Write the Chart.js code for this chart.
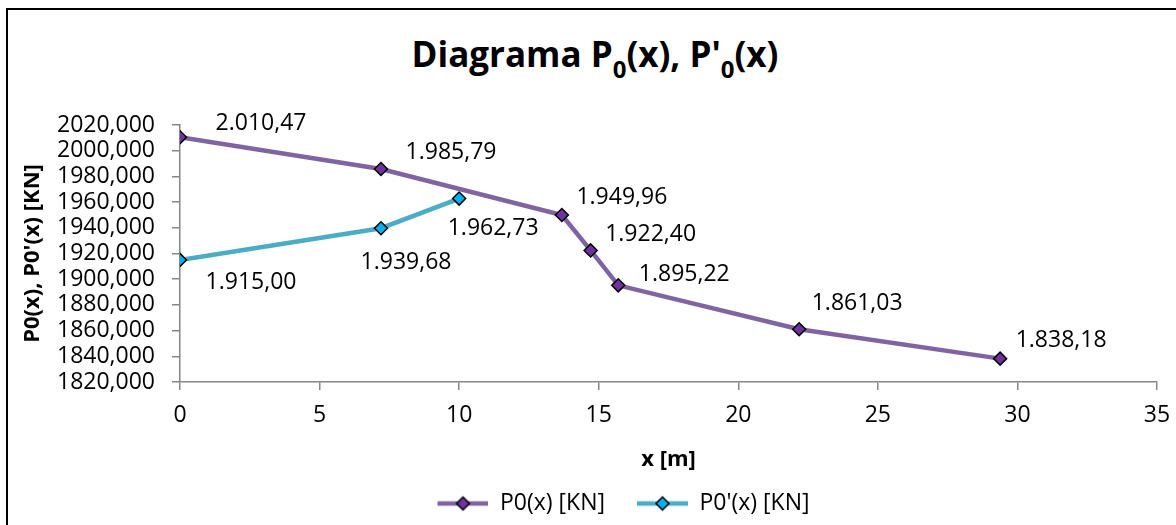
<!DOCTYPE html>
<html>
<head>
<meta charset="utf-8">
<script src="https://cdn.jsdelivr.net/npm/chart.js@4.4.1/dist/chart.umd.min.js"></script>
<style>
  html, body { margin: 0; padding: 0; background: #fff; overflow: hidden; }
  #wrap { position: relative; width: 1176px; height: 525px; }
  #frame { position: absolute; left: 6px; top: 8px; width: 1200px; height: 600px; border: 2px solid #000; box-sizing: border-box; }
  #title { position: absolute; left: 0; top: 36px; width: 1190px; text-align: center; font: bold 35px "Open Sans", sans-serif; line-height: 35px; color: #000; }
  #title sub { font-size: 24px; vertical-align: -11px; line-height: 0; }
  canvas { position: absolute; left: 0; top: 0; }
</style>
</head>
<body>
<div id="wrap">
  <div id="frame"></div>
  <div id="title">Diagrama P<sub>0</sub>(x), P'<sub>0</sub>(x)</div>
  <canvas id="chart" width="1176" height="525"></canvas>
</div>
<script>
/* ================= DATA ================= */

const seriesNames = ["P0(x) [KN]", "P0'(x) [KN]"];

const xP0   = [0, 7.2, 13.68, 14.71, 15.7, 22.18, 29.38];
const valP0 = [2010.47, 1985.79, 1949.96, 1922.40, 1895.22, 1861.03, 1838.18];

const xP0p   = [0, 7.2, 10];
const valP0p = [1915.00, 1939.68, 1962.73];

const xTicks = [0, 35, 5];        // min, max, step
const yTicks = [1820, 2020, 20];  // min, max, step

/* ================= STYLE ================= */

const FONT = '"Open Sans", sans-serif';
const lineColors   = ["#8064A2", "#4BACC6"];
const markerColors = ["#7030A0", "#00B0F0"];
const axisColor = "#868686";

// where each value label sits, relative to its point
const labelOffsets = [
  [[81, -14], [70, -17], [60, -18], [60, -16], [66, -11], [58, -26], [61, -18]],
  [[71, 23], [25, 34], [34, 30]]
];

Chart.defaults.font.family = FONT;
Chart.defaults.color = "#000";

/* ================= HELPERS ================= */

function fmtES(v) {
  const [i, d] = v.toFixed(2).split(".");
  return i.replace(/\B(?=(\d{3})+(?!\d))/g, ".") + "," + d;
}

function legendGlyph(line, fill) {
  const c = document.createElement("canvas");
  c.width = 73; c.height = 18;
  const g = c.getContext("2d");
  g.strokeStyle = line;
  g.lineWidth = 4.5;
  g.beginPath(); g.moveTo(22, 9); g.lineTo(73, 9); g.stroke();
  const cx = 47.5, r = 6.5;
  g.beginPath();
  g.moveTo(cx - r, 9); g.lineTo(cx, 9 - r); g.lineTo(cx + r, 9); g.lineTo(cx, 9 + r);
  g.closePath();
  g.fillStyle = fill; g.fill();
  g.lineWidth = 1.5; g.strokeStyle = "#000"; g.stroke();
  return c;
}

const glyphs = [legendGlyph(lineColors[0], markerColors[0]), legendGlyph(lineColors[1], markerColors[1])];

/* ================= PLUGINS ================= */

const valueLabels = {
  id: "valueLabels",
  afterDatasetsDraw(chart) {
    const ctx = chart.ctx;
    ctx.save();
    ctx.font = "23px " + FONT;
    ctx.fillStyle = "#000";
    ctx.textAlign = "center";
    ctx.textBaseline = "middle";
    chart.data.datasets.forEach((ds, i) => {
      chart.getDatasetMeta(i).data.forEach((pt, j) => {
        const o = labelOffsets[i][j];
        ctx.fillText(fmtES(ds.data[j].y), pt.x + o[0], pt.y + o[1]);
      });
    });
    ctx.restore();
  }
};

const shiftLegend = {
  id: "shiftLegend",
  afterLayout(chart) {
    chart.legend.left += 34;
    chart.legend.right += 34;
  }
};

/* ================= CHART ================= */

function series(xs, ys) {
  return xs.map((x, i) => ({ x, y: ys[i] }));
}

function dataset(k, xs, ys) {
  return {
    label: seriesNames[k],
    data: series(xs, ys),
    borderColor: lineColors[k],
    backgroundColor: markerColors[k],
    borderWidth: 4.5,
    pointStyle: "rectRot",
    pointRadius: 6.5,
    pointBackgroundColor: markerColors[k],
    pointBorderColor: "#000",
    pointBorderWidth: 1.5,
    tension: 0
  };
}

new Chart(document.getElementById("chart").getContext("2d"), {
  type: "line",
  data: {
    datasets: [dataset(0, xP0, valP0), dataset(1, xP0p, valP0p)]
  },
  options: {
    responsive: false,
    animation: false,
    layout: { padding: { left: 0, right: 19, top: 125, bottom: 0 } },
    scales: {
      x: {
        type: "linear",
        min: xTicks[0], max: xTicks[1],
        afterFit(s) { s.height = 100; s.paddingLeft = 14; s.paddingRight = 14; },
        ticks: { stepSize: xTicks[2], padding: 12, font: { size: 23 }, color: "#000" },
        grid: { drawOnChartArea: false, drawTicks: true, tickLength: 8, color: axisColor, lineWidth: 1.5 },
        border: { display: true, color: axisColor, width: 1.5 },
        title: { display: true, text: "x [m]", font: { size: 22, weight: "bold" }, padding: { top: 0, bottom: 9 } }
      },
      y: {
        min: yTicks[0], max: yTicks[1],
        afterFit(s) { s.width = 180; },
        ticks: {
          stepSize: yTicks[2], autoSkip: false, padding: 17, font: { size: 23 }, color: "#000",
          callback: v => v.toFixed(3).replace(".", ",")
        },
        grid: { drawOnChartArea: false, drawTicks: true, tickLength: 8, color: axisColor, lineWidth: 1.5 },
        border: { display: true, color: axisColor, width: 1.5 },
        title: { display: true, text: "P0(x), P0'(x) [KN]", font: { size: 22, weight: "bold" }, padding: { top: 20, bottom: 0 } }
      }
    },
    plugins: {
      title: { display: false },
      tooltip: { enabled: false },
      legend: {
        position: "bottom",
        labels: {
          usePointStyle: true,
          pointStyleWidth: 73,
          padding: 10,
          font: { size: 23 },
          color: "#000",
          generateLabels(chart) {
            return Chart.defaults.plugins.legend.labels.generateLabels(chart)
              .map((item, i) => Object.assign(item, { pointStyle: glyphs[i] }));
          }
        }
      }
    }
  },
  plugins: [valueLabels, shiftLegend]
});
</script>
</body>
</html>
